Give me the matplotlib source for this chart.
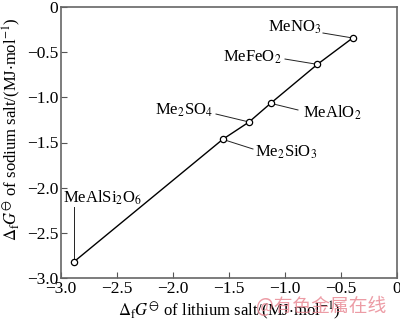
import matplotlib
matplotlib.use("Agg")
import matplotlib.pyplot as plt

plt.rcParams['font.family'] = ['Liberation Serif', 'DejaVu Serif']
plt.rcParams['mathtext.fontset'] = 'stix'

names = ['MeAlSi$_2$O$_6$', 'Me$_2$SiO$_3$', 'Me$_2$SO$_4$', 'MeAlO$_2$', 'MeFeO$_2$', 'MeNO$_3$']
li = [-2.884, -1.556, -1.321, -1.128, -0.711, -0.396]
na = [-2.82, -1.465, -1.273, -1.066, -0.635, -0.343]
# label text anchor positions (data coords) and alignment
lab_x = [-2.982, -1.268, -1.643, -0.839, -1.027, -0.670]
lab_y = [-2.114, -1.605, -1.140, -1.173, -0.553, -0.221]
lab_ha = ['left', 'left', 'right', 'left', 'right', 'right']
lead_x = [-2.884, -1.286, -1.616, -0.884, -1.000, -0.661]
lead_y = [-2.214, -1.572, -1.185, -1.140, -0.576, -0.288]

xticks = [-3.0, -2.5, -2.0, -1.5, -1.0, -0.5, 0]
yticks = [-3.0, -2.5, -2.0, -1.5, -1.0, -0.5, 0]
ticklabels = ['\u22123.0', '\u22122.5', '\u22122.0', '\u22121.5', '\u22121.0', '\u22120.5', '0']

fig = plt.figure(figsize=(4.0, 3.24), dpi=100)
ax = fig.add_axes([61/400, 1-278/324, 336/400, 271/324])
ax.plot(li, na, color='black', lw=1.0, marker='o', ms=4.5, mfc='white', mec='black', mew=0.9, zorder=3)
for i, n in enumerate(names):
    ax.plot([lead_x[i], li[i]], [lead_y[i], na[i]], color='#222222', lw=0.7, zorder=2)
    ax.text(lab_x[i], lab_y[i], n, ha=lab_ha[i], va='center', fontsize=12)

ax.set_xlim(-3.0, 0)
ax.set_ylim(-3.0, 0)
ax.set_xticks(xticks)
ax.set_yticks(yticks)
ax.set_xticklabels(ticklabels)
ax.set_yticklabels(ticklabels)
ax.tick_params(direction='in', length=4, width=0.8, labelsize=12.5, color='#555555', pad=2)
for s in ax.spines.values():
    s.set_color('#666666')
    s.set_linewidth(1.2)
ax.set_xlabel(r'$\Delta_\mathrm{f}G^{\ominus}$ of lithium salt/(MJ$\cdot$mol$^{-1}$)', fontsize=12, labelpad=2)
ax.set_ylabel(r'$\Delta_\mathrm{f}G^{\ominus}$ of sodium salt/(MJ$\cdot$mol$^{-1}$)', fontsize=12)
ax.yaxis.set_label_coords(-(61 - 23) / 336, 0.55)

fig.text(321/400, 1-307/324, '@有色金属在线', fontsize=13.5, color='#e8838f', alpha=0.8,
         family=['Noto Sans CJK SC', 'DejaVu Sans'], ha='center', va='center')

fig.savefig('out.png', dpi=100)
